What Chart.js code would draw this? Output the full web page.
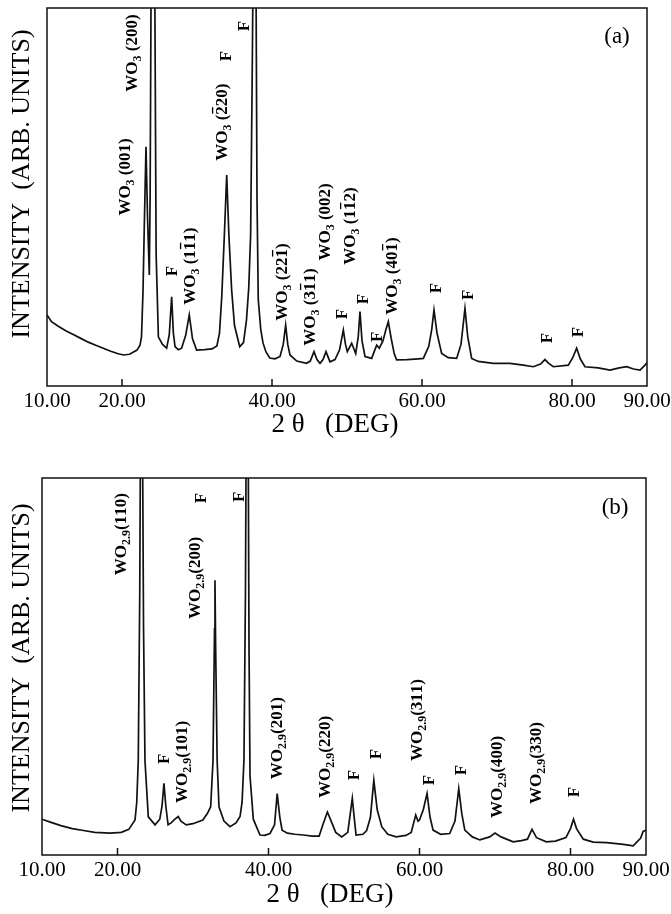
<!DOCTYPE html>
<html>
<head>
<meta charset="utf-8">
<script src="https://cdn.jsdelivr.net/npm/chart.js@4.4.1/dist/chart.umd.min.js"></script>
<style>
  html, body { margin: 0; padding: 0; background: #fff; }
  body { width: 671px; height: 914px; position: relative; overflow: hidden; }
  .panel { position: absolute; left: 0; width: 671px; }
</style>
</head>
<body>
<div class="panel" style="top:0;height:455px;"><canvas id="chartA"></canvas></div>
<div class="panel" style="top:455px;height:459px;"><canvas id="chartB"></canvas></div>
<script>
// ---- data (2θ in degrees, intensity in % of frame height) ----
const xTicks = [10, 20, 40, 60, 80, 90];

const thetaA = [10.0, 10.6, 11.5, 12.5, 13.5, 14.5, 15.5, 16.5, 17.5, 18.5, 19.4, 20.2, 21.0, 22.0, 22.4, 22.6, 22.8, 23.0, 23.2, 23.4,
  23.64, 23.75, 23.9, 24.35, 24.55, 24.85, 25.4, 25.95, 26.3, 26.62, 26.85, 27.07, 27.5, 27.95, 28.5, 28.97, 29.4, 29.95, 31.0, 32.0,
  32.65, 33.0, 33.3, 33.65, 33.96, 34.25, 34.62, 35.0, 35.7, 36.2, 36.6, 36.9, 37.15, 37.35, 37.5, 37.85, 38.0, 38.17, 38.5, 38.8,
  39.2, 39.7, 40.4, 41.07, 41.5, 41.82, 42.1, 42.4, 43.3, 44.6, 45.1, 45.6, 46.0, 46.4, 46.8, 47.2, 47.73, 48.4, 49.0, 49.51,
  49.8, 50.04, 50.62, 51.16, 51.5, 51.73, 52.0, 52.4, 53.29, 53.7, 53.96, 54.31, 54.8, 55.2, 55.51, 55.9, 56.3, 56.62, 58.0, 59.5,
  60.18, 60.9, 61.3, 61.6, 62.0, 62.62, 63.5, 64.62, 65.2, 65.73, 66.1, 66.62, 67.5, 69.51, 71.73, 73.5, 74.84, 75.8, 76.4, 76.9,
  77.51, 79.51, 80.1, 80.62, 81.1, 81.73, 83.5, 85.07, 86.3, 87.29, 88.2, 89.07, 89.73, 90.0];
const intensityA = [18.8, 17.0, 15.8, 14.6, 13.6, 12.6, 11.6, 10.8, 10.0, 9.2, 8.6, 8.2, 8.4, 9.5, 10.8, 13, 25, 45, 63.3, 45,
  29.4, 50, 115, 115, 35, 13, 11, 10.0, 13.5, 23.6, 14, 10.4, 9.6, 10, 13.5, 18.8, 12.5, 9.5, 9.6, 9.8,
  10.6, 14, 23.6, 40, 55.8, 40, 25.4, 16, 10.4, 11.5, 17.5, 26, 40, 80, 115, 115, 50, 22.8, 15, 11.4,
  9, 7.4, 7.2, 7.8, 11, 16.1, 11, 8.2, 6.6, 6.0, 6.6, 9.1, 7, 6.0, 7, 9.1, 6.4, 7.0, 9.5, 14.8,
  11, 9.1, 11.3, 8.6, 13, 19.7, 12, 7.8, 7.3, 9.5, 10.8, 10.0, 12, 15, 17.0, 12.5, 8.5, 6.9, 7.0, 7.2,
  7.3, 10.5, 15, 20.1, 14, 8.6, 7.5, 7.3, 11, 20.5, 13, 7.3, 6.5, 6.0, 6.0, 5.5, 5.1, 5.8, 7.0, 6.0,
  5.1, 5.5, 7.5, 10.0, 7.2, 5.1, 4.8, 4.2, 4.8, 5.1, 4.5, 4.2, 5.5, 6.2];

const thetaB = [10.0, 11.0, 12.5, 14.0, 15.5, 17.0, 19.0, 20.5, 21.5, 22.32, 22.55, 22.75, 22.95, 23.05, 23.3, 23.45, 23.64, 24.08, 24.97, 25.6,
  25.9, 26.15, 26.4, 26.7, 27.1, 27.6, 28.05, 28.4, 29.1, 30.0, 31.3, 31.9, 32.34, 32.65, 32.85, 32.91, 33.0, 33.2, 33.44, 34.1,
  34.9, 35.7, 36.23, 36.5, 36.75, 36.95, 37.05, 37.3, 37.42, 37.55, 37.99, 38.87, 39.5, 40.2, 40.8, 41.15, 41.5, 41.8, 42.5, 43.5,
  44.6, 45.8, 46.7, 47.2, 47.8, 48.3, 48.9, 49.7, 50.5, 51.1, 51.4, 51.6, 52.5, 53.0, 53.5, 53.95, 54.4, 55.0, 55.8, 56.9,
  58.2, 58.9, 59.5, 59.8, 60.0, 60.5, 61.0, 61.4, 61.8, 62.8, 64.0, 64.7, 65.2, 65.6, 66.0, 67.0, 68.0, 69.3, 70.0, 70.8,
  72.4, 73.5, 74.3, 74.9, 75.5, 76.8, 78.0, 79.4, 80.0, 80.4, 80.8, 81.7, 83.0, 84.8, 87.0, 88.3, 89.3, 89.6, 90.0];
const intensityB = [9.5, 8.8, 7.8, 7.0, 6.5, 6.0, 5.8, 6.0, 6.8, 9.3, 14, 25, 70, 115, 115, 60, 25, 10.1, 8.0, 9.5,
  13, 19, 13, 8, 8.5, 9.5, 10.2, 9, 8, 8.3, 9.3, 11, 12.8, 25, 60, 72.9, 55, 25, 12.8, 9,
  7.5, 8.5, 10.2, 14, 25.2, 70, 115, 115, 55, 21, 9.5, 5.3, 5.2, 5.7, 8, 16.3, 10, 6.6, 5.8, 5.5,
  5.3, 5.0, 5.0, 8, 11.4, 9, 6, 4.8, 6, 15, 9, 5.3, 5.5, 6.5, 10, 19.8, 12, 7.5, 5.5, 4.8,
  5.2, 6, 10.6, 9, 9.3, 12, 16.3, 10, 6.6, 5.5, 5.7, 9, 17.6, 11, 6.6, 4.8, 4.0, 4.8, 5.8, 4.8,
  3.5, 3.8, 4.2, 6.8, 4.6, 3.5, 3.7, 4.6, 7, 9.5, 7, 4.2, 3.4, 3.3, 2.8, 2.4, 4.5, 6.2, 6.6];

// peak labels: text ("_" = subscript, "~" = overbar on next char), 2θ and intensity of label centre
const peakTextA  = ['WO_3 (001)', 'WO_3 (200)', 'WO_3 (~220)', 'F', 'F', 'F', 'WO_3 (1~11)', 'WO_3 (22~1)', 'WO_3 (3~11)', 'WO_3 (002)',
  'WO_3 (1~12)', 'F', 'F', 'F', 'WO_3 (40~1)', 'F', 'F', 'F', 'F'];
const peakThetaA = [20.27, 21.2, 33.2, 33.73, 36.13, 26.53, 28.93, 41.2, 44.93, 46.93, 50.27, 49.2, 52.0, 53.87, 55.87, 61.73, 66.0, 76.53, 80.67];
const peakLevelA = [55.3, 88.1, 69.8, 87.3, 95.2, 30.4, 31.7, 27.5, 20.9, 43.4, 42.3, 19.0, 23.0, 13.0, 29.1, 25.9, 24.1, 12.7, 14.3];

const peakTextB  = ['WO_2.9(110)', 'F', 'F', 'WO_2.9(200)', 'F', 'WO_2.9(101)', 'WO_2.9(201)', 'WO_2.9(220)', 'F', 'F',
  'WO_2.9(311)', 'F', 'F', 'WO_2.9(400)', 'WO_2.9(330)', 'F'];
const peakThetaB = [20.33, 30.93, 35.96, 30.13, 26.03, 28.41, 41.0, 47.35, 51.19, 54.11, 59.54, 61.13, 65.36, 70.13, 75.3, 80.33];
const peakLevelB = [85.1, 94.7, 95.0, 73.5, 25.5, 24.7, 31.0, 26.0, 21.2, 26.8, 35.8, 19.9, 22.5, 20.7, 24.4, 16.7];

const SERIF = '"Liberation Serif", "Times New Roman", serif';

// rotated label with subscript / overbar parts
function drawPeakLabel(ctx, str, px, py) {
  const segs = [];
  for (let i = 0; i < str.length; i++) {
    const c = str[i];
    if (c === '_') {
      let s = '';
      i++;
      while (i < str.length && /[0-9.]/.test(str[i])) s += str[i++];
      i--;
      segs.push({ t: s, sub: true });
    } else if (c === '~') {
      segs.push({ t: str[++i], bar: true });
    } else {
      segs.push({ t: c });
    }
  }
  const main = 'bold 17px ' + SERIF, small = 'bold 12px ' + SERIF;
  let w = 0;
  segs.forEach(s => { ctx.font = s.sub ? small : main; s.w = ctx.measureText(s.t).width; w += s.w; });
  ctx.save();
  ctx.translate(px, py);
  ctx.rotate(-Math.PI / 2);
  ctx.fillStyle = '#000';
  ctx.strokeStyle = '#000';
  ctx.textBaseline = 'alphabetic';
  ctx.textAlign = 'left';
  const base = 5.6;
  let cx = -w / 2;
  segs.forEach(s => {
    ctx.font = s.sub ? small : main;
    ctx.fillText(s.t, cx, s.sub ? base + 4 : base);
    if (s.bar) {
      ctx.lineWidth = 1.3;
      ctx.beginPath();
      ctx.moveTo(cx + 1, base - 14);
      ctx.lineTo(cx + s.w - 1, base - 14);
      ctx.stroke();
    }
    cx += s.w;
  });
  ctx.restore();
}

const decor = {
  id: 'decor',
  afterDatasetsDraw(chart, args, o) {
    const { ctx, chartArea: a, scales: { x, y } } = chart;
    ctx.save();
    ctx.strokeStyle = '#111';
    ctx.lineWidth = 1.5;
    ctx.strokeRect(a.left, a.top, a.right - a.left, a.bottom - a.top);
    // short inward tick marks
    x.ticks.forEach(t => {
      if (t.value <= x.min || t.value >= x.max) return;
      const px = x.getPixelForValue(t.value);
      ctx.beginPath();
      ctx.moveTo(px, a.bottom);
      ctx.lineTo(px, a.bottom - 7);
      ctx.stroke();
    });
    // axis titles
    ctx.fillStyle = '#000';
    ctx.textAlign = 'center';
    ctx.textBaseline = 'middle';
    ctx.font = '27px ' + SERIF;
    ctx.fillText('2 θ   (DEG)', o.xTitle[0], o.xTitle[1]);
    ctx.save();
    ctx.translate(o.yTitle[0], o.yTitle[1]);
    ctx.rotate(-Math.PI / 2);
    ctx.font = '26px ' + SERIF;
    ctx.fillText('INTENSITY  (ARB. UNITS)', 0, 0);
    ctx.restore();
    // panel tag
    ctx.font = '23px ' + SERIF;
    ctx.fillText(o.tag, x.getPixelForValue(o.tagAt[0]), y.getPixelForValue(o.tagAt[1]));
    ctx.restore();
    // peak labels
    o.text.forEach((s, i) => drawPeakLabel(ctx, s, x.getPixelForValue(o.theta[i]), y.getPixelForValue(o.level[i])));
  }
};

function makeChart(id, theta, intensity, cfg) {
  return new Chart(document.getElementById(id), {
    type: 'line',
    data: {
      datasets: [{
        data: theta.map((t, i) => ({ x: t, y: intensity[i] })),
        borderColor: '#111',
        borderWidth: 1.7,
        pointRadius: 0,
        tension: 0,
        fill: false,
      }],
    },
    options: {
      responsive: true, maintainAspectRatio: false, animation: false,
      layout: { padding: { top: cfg.padTop, right: cfg.padRight, left: 0, bottom: 0 } },
      plugins: {
        legend: { display: false }, tooltip: { enabled: false },
        decor: cfg.decor,
      },
      scales: {
        x: {
          type: 'linear', min: 10, max: 90,
          afterBuildTicks: (s) => { s.ticks = xTicks.map(v => ({ value: v })); },
          afterFit: (s) => { s.height = cfg.xHeight; s.paddingLeft = 0; s.paddingRight = 0; },
          ticks: { color: '#000', padding: 3, maxRotation: 0, autoSkip: false,
            font: { family: SERIF, size: 21 }, callback: (v) => Number(v).toFixed(2) },
          grid: { display: false, drawTicks: false },
          border: { display: false },
        },
        y: {
          min: 0, max: 100,
          afterFit: (s) => { s.width = cfg.yWidth; s.paddingTop = 0; s.paddingBottom = 0; },
          ticks: { display: false },
          grid: { display: false, drawTicks: false },
          border: { display: false },
        },
      },
    },
    plugins: [decor],
  });
}

makeChart('chartA', thetaA, intensityA, {
  padTop: 8, padRight: 24, xHeight: 69, yWidth: 47,
  decor: { tag: '(a)', tagAt: [86.0, 92.3], xTitle: [335, 425], yTitle: [22, 184],
    text: peakTextA, theta: peakThetaA, level: peakLevelA },
});
makeChart('chartB', thetaB, intensityB, {
  padTop: 23, padRight: 25, xHeight: 59, yWidth: 42,
  decor: { tag: '(b)', tagAt: [85.9, 92.0], xTitle: [330, 440], yTitle: [22, 203],
    text: peakTextB, theta: peakThetaB, level: peakLevelB },
});
</script>
</body>
</html>
